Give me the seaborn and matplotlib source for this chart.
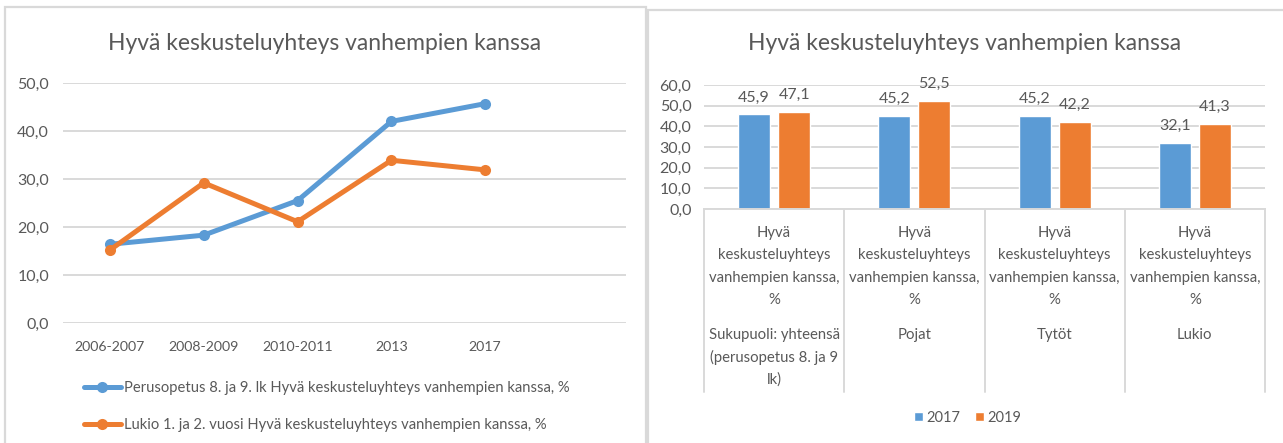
import matplotlib
matplotlib.use("Agg")
import matplotlib.pyplot as plt
import matplotlib.transforms as mtransforms
from matplotlib.patches import Rectangle
from matplotlib.lines import Line2D
import seaborn as sns
import pandas as pd

# ---------------- data ----------------
title = "Hyvä keskusteluyhteys vanhempien kanssa"

periods = ["2006-2007", "2008-2009", "2010-2011", "2013", "2017"]
series_perus = "Perusopetus 8. ja 9. lk Hyvä keskusteluyhteys vanhempien kanssa, %"
series_lukio = "Lukio 1. ja 2. vuosi Hyvä keskusteluyhteys vanhempien kanssa, %"
values_perus = [16.4, 18.3, 25.5, 42.0, 45.7]
values_lukio = [15.2, 29.2, 21.1, 33.9, 31.9]
left_yticks = [0, 10, 20, 30, 40, 50]

bar_groups = ["Sukupuoli: yhteensä\n(perusopetus 8. ja 9\nlk)", "Pojat", "Tytöt", "Lukio"]
bar_measure = "Hyvä\nkeskusteluyhteys\nvanhempien kanssa,\n%"
years = ["2017", "2019"]
values_2017 = [45.9, 45.2, 45.2, 32.1]
values_2019 = [47.1, 52.5, 42.2, 41.3]
right_yticks = [0, 10, 20, 30, 40, 50, 60]

# ---------------- style ----------------
BLUE = "#5B9BD5"
ORANGE = "#ED7D31"
TXT = "#595959"
GRID = "#D9D9D9"
W, H = 1283, 443

sns.set_style("white")
plt.rcParams["font.family"] = ["Lato", "DejaVu Sans"]

fig = plt.figure(figsize=(W / 100, H / 100), dpi=100)
fig.patch.set_facecolor("white")


def fx(px):
    return px / W


def fy(py):
    return 1 - py / H


def fmt(v):
    return f"{v:.1f}".replace(".", ",")


# panel borders
fig.add_artist(Rectangle((fx(5), fy(460)), fx(646 - 5), fy(7) - fy(460),
                         transform=fig.transFigure, fill=False, edgecolor=GRID, lw=1.6))
fig.add_artist(Rectangle((fx(648), fy(460)), fx(1300 - 648), fy(10) - fy(460),
                         transform=fig.transFigure, fill=False, edgecolor=GRID, lw=1.6))

# ---------------- left: line chart ----------------
ax1 = fig.add_axes([fx(63), fy(323), fx(626 - 63), fy(83) - fy(323)])
df1 = pd.DataFrame({
    "period": periods * 2,
    "value": values_perus + values_lukio,
    "series": [series_perus] * len(periods) + [series_lukio] * len(periods),
})
sns.lineplot(data=df1, x="period", y="value", hue="series", palette=[BLUE, ORANGE],
             marker="o", markersize=8, markeredgewidth=0, linewidth=3.6, sort=False, ax=ax1)
ax1.set_xlim(-0.5, 5.5)
ax1.set_ylim(0, 50)
ax1.set_yticks(left_yticks)
ax1.set_yticklabels([fmt(v) for v in left_yticks])
ax1.set_xlabel("")
ax1.set_ylabel("")
ax1.grid(axis="y", color=GRID, lw=1.4)
ax1.set_axisbelow(True)
for s in ax1.spines.values():
    s.set_visible(False)
ax1.tick_params(axis="y", length=0, pad=10, labelsize=11.5, labelcolor=TXT)
ax1.tick_params(axis="x", length=0, pad=13, labelsize=10.2, labelcolor=TXT)
h, l = ax1.get_legend_handles_labels()
ax1.get_legend().remove()
fig.legend(h, l, loc="upper left", bbox_to_anchor=(fx(84), fy(381)), frameon=False,
           fontsize=10.6, labelcolor=TXT, handlelength=2.5, handletextpad=0.25,
           labelspacing=1.55, borderpad=0, borderaxespad=0)
fig.text(fx(325), fy(43), title, ha="center", va="center", fontsize=16.5, color=TXT)

# ---------------- right: bar chart ----------------
ax2 = fig.add_axes([fx(704), fy(209), fx(1265 - 704), fy(85) - fy(209)])
df2 = pd.DataFrame({
    "group": bar_groups * 2,
    "value": values_2017 + values_2019,
    "year": [years[0]] * len(bar_groups) + [years[1]] * len(bar_groups),
})
sns.barplot(data=df2, x="group", y="value", hue="year", palette=[BLUE, ORANGE],
            width=0.57, gap=0.2, saturation=1, ax=ax2)
ax2.set_xlim(-0.5, len(bar_groups) - 0.5)
ax2.set_ylim(0, 60)
ax2.set_yticks(right_yticks)
ax2.set_yticklabels([fmt(v) for v in right_yticks])
ax2.set_xlabel("")
ax2.set_ylabel("")
ax2.set_xticks(range(len(bar_groups)))
ax2.set_xticklabels([""] * len(bar_groups))
ax2.grid(axis="y", color=GRID, lw=1.4)
ax2.set_axisbelow(True)
for k, s in ax2.spines.items():
    s.set_visible(k == "bottom")
ax2.spines["bottom"].set_color(GRID)
ax2.spines["bottom"].set_linewidth(1.4)
ax2.tick_params(axis="y", length=0, pad=9, labelsize=11.5, labelcolor=TXT)
ax2.tick_params(axis="x", length=0)
for cont in ax2.containers:
    ax2.bar_label(cont, labels=[fmt(v) for v in cont.datavalues], padding=7,
                  fontsize=11.5, color=TXT)

trans = mtransforms.blended_transform_factory(ax2.transData, fig.transFigure)
for i in range(len(bar_groups) + 1):
    ax2.add_line(Line2D([i - 0.5, i - 0.5], [fy(209), fy(392)], transform=trans,
                        color=GRID, lw=1.4, clip_on=False))
measure_lines = bar_measure.split("\n")
for i, g in enumerate(bar_groups):
    for j, t in enumerate(measure_lines):
        ax2.text(i, fy(233 + 22.4 * j), t, transform=trans, ha="center", va="center",
                 fontsize=10.7, color=TXT)
    for j, t in enumerate(g.split("\n")):
        ax2.text(i, fy(335 + 22.4 * j), t, transform=trans, ha="center", va="center",
                 fontsize=10.7, color=TXT)

h2, l2 = ax2.get_legend_handles_labels()
ax2.get_legend().remove()
fig.legend(h2, l2, loc="center", bbox_to_anchor=(fx(968), fy(418)), ncol=2, frameon=False,
           fontsize=10.5, labelcolor=TXT, handlelength=0.6, handleheight=0.6,
           handletextpad=0.25, columnspacing=1.0, borderpad=0, borderaxespad=0)
fig.text(fx(965), fy(43), title, ha="center", va="center", fontsize=16.5, color=TXT)

fig.savefig("out.png", dpi=100, facecolor="white")
